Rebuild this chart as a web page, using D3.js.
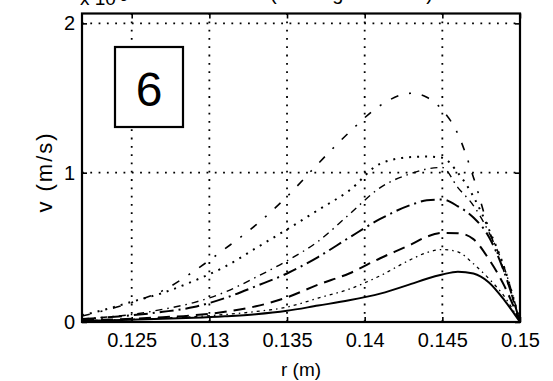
<!DOCTYPE html>
<html>
<head>
<meta charset="utf-8">
<script src="https://cdn.jsdelivr.net/npm/d3@7"></script>
<style>
  html, body { margin: 0; padding: 0; background: #fff; }
  svg { display: block; font-family: "Liberation Sans", Arial, Helvetica, sans-serif; }
</style>
</head>
<body>
<svg id="chart" width="553" height="381"></svg>
<script>
var rValues = [0.1218, 0.123, 0.125, 0.127, 0.129, 0.131, 0.133, 0.135, 0.137, 0.139,
               0.141, 0.143, 0.144, 0.145, 0.146, 0.147, 0.148, 0.149, 0.15];

// velocity (x 10^-3 m/s), one array per curve
var vSolid    = [0.008, 0.01, 0.015, 0.021, 0.028, 0.038, 0.052, 0.075, 0.11, 0.145,
                 0.19, 0.255, 0.29, 0.318, 0.337, 0.325, 0.265, 0.145, 0.0];
var vThinDot  = [0.01, 0.012, 0.018, 0.026, 0.036, 0.05, 0.07, 0.1, 0.16, 0.22,
                 0.31, 0.42, 0.465, 0.485, 0.47, 0.39, 0.29, 0.17, 0.0];
var vDash     = [0.012, 0.015, 0.022, 0.032, 0.045, 0.068, 0.105, 0.165, 0.25, 0.325,
                 0.427, 0.52, 0.571, 0.597, 0.595, 0.555, 0.42, 0.24, 0.0];
var vDashDot  = [0.02, 0.028, 0.045, 0.068, 0.1, 0.16, 0.24, 0.325, 0.435, 0.565,
                 0.69, 0.785, 0.815, 0.82, 0.775, 0.7, 0.57, 0.33, 0.0];
var vDotted   = [0.045, 0.075, 0.135, 0.195, 0.275, 0.37, 0.495, 0.62, 0.75, 0.88,
                 1.06, 1.105, 1.108, 1.1, 1.0, 0.84, 0.62, 0.36, 0.0];
var vDashDot2 = [0.02, 0.03, 0.05, 0.085, 0.13, 0.2, 0.3, 0.41, 0.54, 0.72,
                 0.9, 0.995, 1.025, 1.035, 0.9, 0.78, 0.6, 0.36, 0.0];
var vDashDot3 = [0.04, 0.07, 0.13, 0.21, 0.34, 0.49, 0.65, 0.84, 1.06, 1.27,
                 1.45, 1.532, 1.505, 1.42, 1.26, 0.97, 0.62, 0.33, 0.0];

var xTicks = [0.125, 0.13, 0.135, 0.14, 0.145, 0.15];
var yTicks = [0, 1, 2];

var svg = d3.select("#chart");
// plot box in pixels (note: "top" is reserved on window, so use pTop)
var pLeft = 82, pRight = 520, pTop = 13.5, pBottom = 322;

var x = d3.scaleLinear().domain([0.1218, 0.15]).range([pLeft, pRight]);
var y = d3.scaleLinear().domain([0, 2.066]).range([pBottom, pTop]);

svg.append("rect").attr("width", 553).attr("height", 381).attr("fill", "#fff");

svg.append("defs").append("clipPath").attr("id", "plotclip")
    .append("rect")
    .attr("x", pLeft).attr("y", pTop)
    .attr("width", pRight - pLeft).attr("height", pBottom - pTop);

// dotted grid
var grid = svg.append("g").attr("stroke", "#000").attr("stroke-width", 1.8)
    .attr("stroke-dasharray", "1.8,6.5");
grid.selectAll(".gx").data(xTicks.filter(function (d) { return d < 0.15; }))
    .enter().append("line")
    .attr("x1", function (d) { return x(d); }).attr("x2", function (d) { return x(d); })
    .attr("y1", pBottom).attr("y2", pTop);
grid.selectAll(".gy").data(yTicks.filter(function (d) { return d > 0; }))
    .enter().append("line")
    .attr("x1", pLeft).attr("x2", pRight)
    .attr("y1", function (d) { return y(d); }).attr("y2", function (d) { return y(d); });

// curves
var series = [
    { v: vSolid,    dash: null,            w: 2.0 },
    { v: vThinDot,  dash: "3,4,1.5,4",     w: 1.3 },
    { v: vDash,     dash: "12,7",          w: 2.0 },
    { v: vDashDot,  dash: "14,5,2,5",      w: 2.0 },
    { v: vDotted,   dash: "2,6",           w: 2.0 },
    { v: vDashDot2, dash: "7,5,1.5,5",     w: 1.4 },
    { v: vDashDot3, dash: "8,11,2,11",     w: 1.6 }
];

var line = d3.line()
    .x(function (d) { return x(d[0]); })
    .y(function (d) { return y(d[1]); })
    .curve(d3.curveMonotoneX);

var plot = svg.append("g").attr("clip-path", "url(#plotclip)");
series.forEach(function (s) {
    plot.append("path")
        .datum(rValues.map(function (r, i) { return [r, s.v[i]]; }))
        .attr("fill", "none")
        .attr("stroke", "#000")
        .attr("stroke-width", s.w)
        .attr("stroke-dasharray", s.dash)
        .attr("d", line);
});

// axes
var fmt = function (d) { return String(d); };
var gx = svg.append("g").attr("transform", "translate(0," + pBottom + ")")
    .call(d3.axisBottom(x).tickValues(xTicks).tickFormat(fmt).tickSizeInner(-5).tickSizeOuter(0).tickPadding(11));
var gy = svg.append("g").attr("transform", "translate(" + pLeft + ",0)")
    .call(d3.axisLeft(y).tickValues(yTicks).tickFormat(fmt).tickSizeInner(-5).tickSizeOuter(0).tickPadding(7));
var gt = svg.append("g").attr("transform", "translate(0," + pTop + ")")
    .call(d3.axisTop(x).tickValues(xTicks).tickFormat("").tickSizeInner(-5).tickSizeOuter(0));
var gr = svg.append("g").attr("transform", "translate(" + pRight + ",0)")
    .call(d3.axisRight(y).tickValues(yTicks).tickFormat("").tickSizeInner(-5).tickSizeOuter(0));

[gx, gy, gt, gr].forEach(function (g) {
    g.select(".domain").remove();
    g.selectAll(".tick line").attr("stroke", "#000").attr("stroke-width", 1.6);
    g.selectAll(".tick text").attr("fill", "#000").attr("font-size", 20)
        .attr("font-family", "Liberation Sans, Arial, sans-serif");
});

// frame
svg.append("rect")
    .attr("x", pLeft).attr("y", pTop)
    .attr("width", pRight - pLeft).attr("height", pBottom - pTop)
    .attr("fill", "none").attr("stroke", "#000").attr("stroke-width", 2.2);

// axis labels
svg.append("text").attr("x", (pLeft + pRight) / 2).attr("y", 376)
    .attr("text-anchor", "middle").attr("font-size", 19).text("r (m)");
svg.append("text")
    .attr("transform", "translate(52," + 172 + ") rotate(-90)")
    .attr("text-anchor", "middle").attr("font-size", 22)
    .attr("letter-spacing", 2).text("v (m/s)");

// exponent and title, cut off by the top edge as in the scan
var ex = svg.append("text").attr("x", 80).attr("y", 5).attr("font-size", 19);
ex.append("tspan").text("x 10");
ex.append("tspan").attr("font-size", 13).attr("dy", -4).text("-3");
svg.append("text").attr("x", 180).attr("y", 0).attr("font-size", 20)
    .text("Axial flow (rotating at t = 6 s)");

// panel number
svg.append("rect").attr("x", 115).attr("y", 47).attr("width", 68).attr("height", 80)
    .attr("fill", "#fff").attr("stroke", "#000").attr("stroke-width", 2.2);
svg.append("text").attr("x", 149).attr("y", 106).attr("text-anchor", "middle")
    .attr("font-size", 48).text("6");
</script>
</body>
</html>
